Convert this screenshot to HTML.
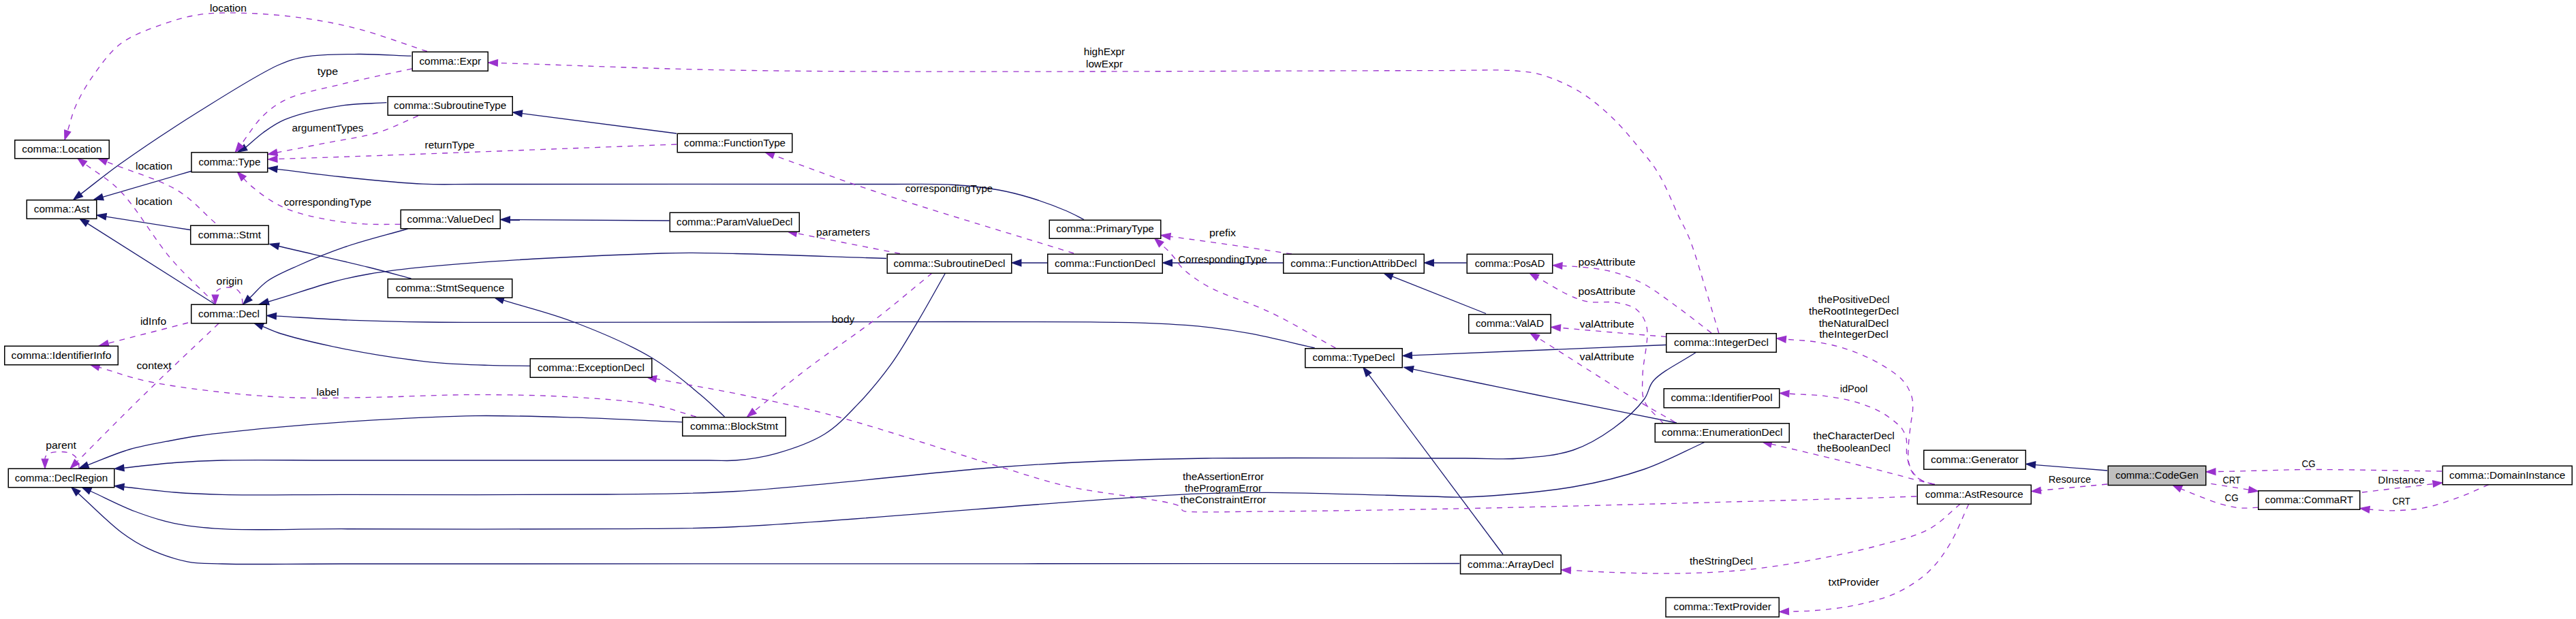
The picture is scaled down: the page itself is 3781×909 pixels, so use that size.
<!DOCTYPE html>
<html><head><meta charset="utf-8"><style>
html,body{margin:0;padding:0;background:#fff;overflow:hidden}
svg{display:block}
text{font-family:"Liberation Sans",sans-serif;font-size:14px;fill:#000}
</style></head><body>
<svg width="3781" height="909" viewBox="0 0 3781 909">
<g transform="translate(1,0)">
<path d="M602.6,82.2 C576.8,81.3 550.9,79.3 525.1,79.5 C499.3,79.7 468.8,79.6 447.6,83.3 C432.3,85.9 424.7,88.1 408.8,95.0 C379.9,107.6 331.0,138.9 292.6,162.8 C253.5,187.2 208.2,217.3 176.3,240.0 C153.1,256.6 137.2,269.9 117.6,284.9" fill="none" stroke="#191970" stroke-width="1.33"/><polygon points="107.0,293.0 114.8,281.2 120.4,288.6" fill="#191970" stroke="#191970" stroke-width="1.33"/>
<path d="M566.4,150.7 C543.9,152.2 522.3,151.6 498.9,155.3 C472.7,159.4 437.5,167.1 417.0,175.6 C403.3,181.3 394.8,187.9 385.0,195.0 C375.8,201.7 368.1,209.4 359.6,216.6" fill="none" stroke="#191970" stroke-width="1.33"/><polygon points="348.0,223.1 357.3,212.5 361.9,220.6" fill="#191970" stroke="#191970" stroke-width="1.33"/>
<path d="M992.0,196.0 L765.2,166.7" fill="none" stroke="#191970" stroke-width="1.33"/><polygon points="752.0,165.0 765.8,162.1 764.6,171.3" fill="#191970" stroke="#191970" stroke-width="1.33"/>
<path d="M1590.0,322.5 C1581.7,318.3 1575.1,314.3 1565.0,310.0 C1550.4,303.7 1527.6,295.3 1510.0,290.0 C1494.4,285.3 1481.5,282.0 1465.0,279.0 C1445.4,275.5 1424.0,273.0 1400.0,271.5 C1370.3,269.6 1347.3,270.7 1300.0,270.5 C1184.0,269.9 807.0,270.7 700.0,270.5 C660.9,270.4 649.5,271.5 620.0,270.2 C583.5,268.5 535.5,263.4 497.7,259.5 C464.8,256.1 436.4,252.1 405.7,248.4" fill="none" stroke="#191970" stroke-width="1.33"/><polygon points="392.5,246.8 406.3,243.8 405.2,253.0" fill="#191970" stroke="#191970" stroke-width="1.33"/>
<path d="M281.0,251.0 L149.8,289.3" fill="none" stroke="#191970" stroke-width="1.33"/><polygon points="137.0,293.0 148.5,284.8 151.1,293.8" fill="#191970" stroke="#191970" stroke-width="1.33"/>
<path d="M278.0,337.5 L154.7,318.1" fill="none" stroke="#191970" stroke-width="1.33"/><polygon points="141.5,316.0 155.4,313.5 153.9,322.7" fill="#191970" stroke="#191970" stroke-width="1.33"/>
<path d="M314.0,446.5 L127.3,328.1" fill="none" stroke="#191970" stroke-width="1.33"/><polygon points="116.0,321.0 129.8,324.2 124.8,332.1" fill="#191970" stroke="#191970" stroke-width="1.33"/>
<path d="M597.5,336.0 C566.5,345.0 532.9,353.2 504.6,362.9 C480.0,371.4 456.9,380.9 436.7,390.0 C419.9,397.5 404.0,403.9 391.5,412.7 C381.0,420.1 374.3,429.1 365.7,437.3" fill="none" stroke="#191970" stroke-width="1.33"/><polygon points="356.0,446.5 362.4,433.9 368.9,440.7" fill="#191970" stroke="#191970" stroke-width="1.33"/>
<path d="M981.5,324.0 L747.3,322.6" fill="none" stroke="#191970" stroke-width="1.33"/><polygon points="734.0,322.5 747.4,317.9 747.3,327.3" fill="#191970" stroke="#191970" stroke-width="1.33"/>
<path d="M1300.0,379.5 C1226.7,377.2 1140.8,373.6 1080.0,372.5 C1037.0,371.7 1018.7,370.4 970.0,372.0 C873.7,375.2 645.2,384.5 540.0,402.5 C477.4,413.2 441.9,429.5 392.9,443.0" fill="none" stroke="#191970" stroke-width="1.33"/><polygon points="380.0,446.5 391.6,438.5 394.1,447.5" fill="#191970" stroke="#191970" stroke-width="1.33"/>
<path d="M602.5,409.0 C581.7,403.5 564.7,398.7 540.0,392.5 C504.2,383.6 452.0,371.9 408.0,361.5" fill="none" stroke="#191970" stroke-width="1.33"/><polygon points="395.0,358.5 409.0,357.0 406.9,366.1" fill="#191970" stroke="#191970" stroke-width="1.33"/>
<path d="M1928.7,511.0 C1897.0,503.9 1863.6,495.2 1833.5,489.7 C1806.7,484.8 1782.4,481.5 1756.8,478.9 C1731.3,476.3 1705.9,475.3 1680.0,474.3 C1653.6,473.3 1632.7,473.1 1600.0,472.8 C1548.3,472.3 1484.5,472.5 1400.0,472.5 C1253.6,472.5 940.1,473.5 800.0,473.4 C724.5,473.4 676.8,473.7 625.7,473.0 C585.7,472.5 554.9,471.8 518.6,470.4 C481.1,468.9 442.4,466.3 404.3,464.2" fill="none" stroke="#191970" stroke-width="1.33"/><polygon points="391.0,463.5 404.6,459.6 404.1,468.9" fill="#191970" stroke="#191970" stroke-width="1.33"/>
<path d="M777.5,537.3 C756.7,537.0 736.5,537.1 715.0,536.4 C692.0,535.7 668.7,535.1 643.6,532.9 C615.4,530.4 582.3,525.7 554.3,521.3 C529.1,517.3 506.6,513.1 482.9,507.9 C459.0,502.7 429.4,495.8 411.4,490.0 C400.1,486.4 393.5,482.9 384.5,479.4" fill="none" stroke="#191970" stroke-width="1.33"/><polygon points="372.1,474.5 386.2,475.0 382.8,483.7" fill="#191970" stroke="#191970" stroke-width="1.33"/>
<path d="M1062.5,612.0 C1050.8,601.3 1041.6,591.7 1027.5,580.0 C1008.0,563.7 983.0,541.7 955.0,525.0 C922.0,505.3 877.7,486.8 840.0,472.5 C805.3,459.3 771.8,451.5 737.7,440.9" fill="none" stroke="#191970" stroke-width="1.33"/><polygon points="725.0,437.0 739.1,436.5 736.4,445.4" fill="#191970" stroke="#191970" stroke-width="1.33"/>
<path d="M1536.0,386.0 L1497.8,386.0" fill="none" stroke="#191970" stroke-width="1.33"/><polygon points="1484.5,386.0 1497.8,381.3 1497.8,390.7" fill="#191970" stroke="#191970" stroke-width="1.33"/>
<path d="M1882.0,386.0 L1719.3,386.0" fill="none" stroke="#191970" stroke-width="1.33"/><polygon points="1706.0,386.0 1719.3,381.3 1719.3,390.7" fill="#191970" stroke="#191970" stroke-width="1.33"/>
<path d="M2151.5,386.0 L2103.3,386.0" fill="none" stroke="#191970" stroke-width="1.33"/><polygon points="2090.0,386.0 2103.3,381.3 2103.3,390.7" fill="#191970" stroke="#191970" stroke-width="1.33"/>
<path d="M2180.0,460.5 L2042.4,405.9" fill="none" stroke="#191970" stroke-width="1.33"/><polygon points="2030.0,401.0 2044.1,401.6 2040.7,410.3" fill="#191970" stroke="#191970" stroke-width="1.33"/>
<path d="M2444.0,506.5 L2071.3,521.9" fill="none" stroke="#191970" stroke-width="1.33"/><polygon points="2058.0,522.5 2071.1,517.3 2071.5,526.6" fill="#191970" stroke="#191970" stroke-width="1.33"/>
<path d="M2460.0,621.0 C2391.7,607.3 2308.5,590.9 2255.0,580.0 C2220.5,573.0 2199.3,568.6 2170.0,562.5 C2138.7,556.0 2105.4,549.0 2073.0,542.2" fill="none" stroke="#191970" stroke-width="1.33"/><polygon points="2060.0,539.5 2074.0,537.7 2072.1,546.8" fill="#191970" stroke="#191970" stroke-width="1.33"/>
<path d="M2205.0,814.0 L2008.0,550.2" fill="none" stroke="#191970" stroke-width="1.33"/><polygon points="2000.0,539.5 2011.7,547.4 2004.2,553.0" fill="#191970" stroke="#191970" stroke-width="1.33"/>
<path d="M1000.0,619.9 C948.5,617.7 896.5,614.8 845.4,613.2 C795.3,611.7 746.0,610.0 696.3,610.6 C646.6,611.2 596.9,614.0 547.2,616.9 C497.5,619.8 443.9,623.9 398.2,628.1 C359.2,631.7 316.1,636.3 290.0,640.0 C275.1,642.1 268.5,643.4 255.0,646.0 C236.4,649.6 210.3,653.8 189.0,660.0 C168.0,666.1 148.3,675.2 128.0,682.8" fill="none" stroke="#191970" stroke-width="1.33"/><polygon points="115.5,687.5 126.3,678.5 129.6,687.2" fill="#191970" stroke="#191970" stroke-width="1.33"/>
<path d="M1386.6,401.0 C1372.9,425.1 1359.2,450.3 1345.4,473.4 C1332.5,495.0 1321.0,515.5 1306.6,535.4 C1291.9,555.6 1274.9,576.1 1258.1,593.6 C1242.5,609.8 1228.7,625.4 1209.7,637.2 C1188.9,650.2 1160.1,659.8 1136.9,666.3 C1116.8,671.9 1096.3,674.6 1078.8,676.0 C1064.6,677.2 1060.4,676.0 1040.0,676.0 C963.9,676.0 630.6,676.0 500.0,676.0 C425.6,676.0 370.0,674.9 324.8,676.0 C296.3,676.7 278.6,677.7 255.0,679.5 C230.6,681.4 205.5,684.5 180.8,687.1" fill="none" stroke="#191970" stroke-width="1.33"/><polygon points="167.5,688.4 180.3,682.4 181.2,691.7" fill="#191970" stroke="#191970" stroke-width="1.33"/>
<path d="M2489.0,517.0 C2468.0,531.0 2438.5,544.8 2426.0,559.0 C2418.1,567.9 2419.5,576.6 2412.5,586.0 C2402.5,599.5 2384.0,616.6 2367.0,629.0 C2349.3,641.8 2329.6,653.7 2308.0,661.0 C2284.8,668.9 2257.5,671.0 2231.5,673.0 C2204.8,675.1 2187.1,673.0 2150.0,673.0 C2069.8,673.0 1867.7,671.7 1770.0,673.0 C1708.6,673.8 1670.4,674.9 1620.0,677.0 C1568.7,679.2 1528.2,681.3 1465.0,686.0 C1365.3,693.5 1186.0,715.4 1080.0,721.5 C1005.7,725.8 964.6,725.1 890.0,726.0 C783.1,727.3 604.3,726.3 500.0,726.4 C430.1,726.4 370.0,727.5 324.8,726.4 C296.3,725.7 278.6,724.8 255.0,723.0 C230.6,721.1 205.5,717.7 180.8,715.0" fill="none" stroke="#191970" stroke-width="1.33"/><polygon points="167.5,713.6 181.3,710.4 180.3,719.7" fill="#191970" stroke="#191970" stroke-width="1.33"/>
<path d="M2502.0,649.0 C2472.2,662.3 2444.0,678.1 2412.5,689.0 C2379.5,700.4 2346.7,708.4 2308.0,715.0 C2261.0,723.0 2188.0,728.6 2150.0,730.0 C2128.7,730.8 2122.9,729.5 2100.0,729.0 C2049.9,727.9 1923.9,723.5 1860.0,723.3 C1817.5,723.2 1788.5,723.9 1753.9,725.2 C1720.9,726.5 1689.3,728.8 1657.0,730.9 C1624.7,733.0 1604.6,734.6 1560.0,737.8 C1460.8,745.0 1201.6,767.9 1080.0,773.5 C1005.6,776.9 971.8,776.1 900.0,776.7 C792.9,777.7 606.2,776.7 500.0,776.7 C429.7,776.7 369.9,779.3 324.8,776.7 C296.2,775.0 277.0,773.2 255.0,768.6 C234.6,764.4 216.7,758.4 197.0,751.0 C175.6,742.9 153.3,731.0 131.5,721.0" fill="none" stroke="#191970" stroke-width="1.33"/><polygon points="119.4,715.5 133.5,716.8 129.6,725.3" fill="#191970" stroke="#191970" stroke-width="1.33"/>
<path d="M2141.5,827.5 C1927.7,827.6 1737.5,827.7 1500.0,827.8 C1203.5,827.9 696.7,828.0 500.0,828.0 C417.7,828.0 365.7,829.3 324.8,828.0 C302.8,827.3 291.3,828.2 274.0,824.8 C255.1,821.1 233.0,813.3 216.0,805.4 C201.4,798.6 191.4,792.4 177.5,782.0 C158.3,767.7 135.0,743.6 113.8,724.4" fill="none" stroke="#191970" stroke-width="1.33"/><polygon points="103.9,715.5 116.9,721.0 110.7,727.9" fill="#191970" stroke="#191970" stroke-width="1.33"/>
<path d="M3092.0,691.0 L2986.3,682.6" fill="none" stroke="#191970" stroke-width="1.33"/><polygon points="2973.0,681.5 2986.7,677.9 2985.9,687.2" fill="#191970" stroke="#191970" stroke-width="1.33"/>
<path d="M625.9,75.5 C592.3,64.5 556.7,50.9 525.1,42.6 C497.8,35.4 474.2,30.9 447.6,27.1 C420.0,23.1 389.3,20.2 362.3,19.4 C337.9,18.6 314.6,18.1 292.6,21.3 C272.1,24.3 253.5,29.9 234.4,36.8 C214.7,44.0 192.7,51.7 176.3,64.0 C160.6,75.8 148.7,93.0 137.5,108.5 C126.8,123.3 117.1,140.0 110.4,155.0 C104.6,167.8 102.2,179.9 98.2,192.3" fill="none" stroke="#9a32cd" stroke-width="1.33" stroke-dasharray="8,8"/><polygon points="94.0,205.0 93.7,190.9 102.6,193.8" fill="#9a32cd" stroke="#9a32cd" stroke-width="1.33"/>
<path d="M603.8,100.9 C568.8,108.6 531.2,116.0 498.9,124.0 C470.8,130.9 441.1,135.8 420.7,145.3 C405.8,152.3 395.9,159.8 385.0,170.2 C373.0,181.7 363.4,198.4 352.6,212.5" fill="none" stroke="#9a32cd" stroke-width="1.33" stroke-dasharray="8,8"/><polygon points="344.5,223.1 348.9,209.7 356.3,215.4" fill="#9a32cd" stroke="#9a32cd" stroke-width="1.33"/>
<path d="M612.7,170.2 C592.5,178.5 573.5,188.6 552.2,195.0 C529.7,201.8 505.1,204.5 481.0,209.3 C456.2,214.2 430.7,219.1 405.6,224.0" fill="none" stroke="#9a32cd" stroke-width="1.33" stroke-dasharray="8,8"/><polygon points="392.5,226.5 404.7,219.4 406.5,228.5" fill="#9a32cd" stroke="#9a32cd" stroke-width="1.33"/>
<path d="M992.0,212.0 C841.3,217.7 646.3,225.2 540.0,229.0 C482.1,231.1 450.5,232.0 405.8,233.5" fill="none" stroke="#9a32cd" stroke-width="1.33" stroke-dasharray="8,8"/><polygon points="392.5,234.0 405.7,228.9 406.0,238.2" fill="#9a32cd" stroke="#9a32cd" stroke-width="1.33"/>
<path d="M586.6,329.4 C568.8,329.2 551.0,330.0 533.3,328.9 C515.5,327.8 497.7,325.8 480.0,322.6 C462.1,319.3 441.9,314.9 426.6,309.3 C414.3,304.8 404.8,299.7 394.6,293.3 C384.1,286.7 371.0,276.1 364.4,270.2 C360.8,267.0 359.3,264.8 356.7,262.1" fill="none" stroke="#9a32cd" stroke-width="1.33" stroke-dasharray="8,8"/><polygon points="347.5,252.5 360.1,258.9 353.3,265.4" fill="#9a32cd" stroke="#9a32cd" stroke-width="1.33"/>
<path d="M315.0,327.5 C296.7,311.7 282.6,293.8 260.0,280.0 C231.8,262.7 190.2,251.7 155.4,237.5" fill="none" stroke="#9a32cd" stroke-width="1.33" stroke-dasharray="8,8"/><polygon points="143.0,232.5 157.1,233.2 153.6,241.8" fill="#9a32cd" stroke="#9a32cd" stroke-width="1.33"/>
<path d="M315.0,446.0 C293.3,424.0 271.6,405.1 250.0,380.0 C224.9,350.8 199.3,304.6 175.0,280.0 C157.5,262.3 140.7,253.7 123.6,240.6" fill="none" stroke="#9a32cd" stroke-width="1.33" stroke-dasharray="8,8"/><polygon points="113.0,232.5 126.4,236.9 120.7,244.3" fill="#9a32cd" stroke="#9a32cd" stroke-width="1.33"/>
<path d="M275.0,474.0 L157.9,504.2" fill="none" stroke="#9a32cd" stroke-width="1.33" stroke-dasharray="8,8"/><polygon points="145.0,507.5 156.7,499.7 159.1,508.7" fill="#9a32cd" stroke="#9a32cd" stroke-width="1.33"/>
<path d="M1020.6,612.0 C999.5,606.2 981.6,599.0 957.3,594.5 C925.5,588.6 885.4,585.9 845.4,583.4 C799.3,580.5 746.0,579.6 696.3,579.6 C646.6,579.6 593.3,582.7 547.2,583.4 C507.3,584.0 472.6,585.3 435.4,584.1 C398.1,582.9 360.8,580.1 323.6,575.9 C286.3,571.7 244.2,566.3 211.8,559.1 C186.3,553.5 166.9,545.9 144.5,539.3" fill="none" stroke="#9a32cd" stroke-width="1.33" stroke-dasharray="8,8"/><polygon points="131.7,535.5 145.8,534.8 143.2,543.7" fill="#9a32cd" stroke="#9a32cd" stroke-width="1.33"/>
<path d="M320.0,475.0 C283.3,510.0 245.4,545.4 210.0,580.0 C176.2,613.1 144.6,645.4 111.9,678.1" fill="none" stroke="#9a32cd" stroke-width="1.33" stroke-dasharray="8,8"/><polygon points="102.5,687.5 108.6,674.8 115.2,681.4" fill="#9a32cd" stroke="#9a32cd" stroke-width="1.33"/>
<path d="M2521.8,489.0 C2515.9,469.2 2510.5,450.7 2504.0,429.5 C2496.5,405.1 2487.2,371.7 2479.0,351.0 C2473.4,336.9 2468.7,329.6 2462.4,316.4 C2454.0,298.7 2444.0,272.4 2433.0,254.4 C2423.5,238.9 2413.2,227.2 2402.0,213.7 C2390.2,199.4 2377.6,184.1 2363.6,171.0 C2349.3,157.6 2333.8,144.4 2317.0,134.3 C2300.2,124.2 2279.7,115.2 2262.8,110.2 C2249.1,106.1 2240.7,105.3 2224.0,104.0 C2194.4,101.6 2161.1,103.8 2100.0,103.7 C1926.4,103.5 1352.3,107.3 1100.0,103.5 C946.4,101.2 852.9,96.1 729.3,92.4" fill="none" stroke="#9a32cd" stroke-width="1.33" stroke-dasharray="8,8"/><polygon points="716.0,92.0 729.5,87.7 729.2,97.1" fill="#9a32cd" stroke="#9a32cd" stroke-width="1.33"/>
<path d="M1575.0,372.0 C1476.7,341.3 1360.9,307.1 1280.0,280.0 C1222.8,260.9 1183.0,245.3 1134.6,228.0" fill="none" stroke="#9a32cd" stroke-width="1.33" stroke-dasharray="8,8"/><polygon points="1122.0,223.5 1136.1,223.6 1133.0,232.4" fill="#9a32cd" stroke="#9a32cd" stroke-width="1.33"/>
<path d="M1320.0,372.5 L1168.1,342.6" fill="none" stroke="#9a32cd" stroke-width="1.33" stroke-dasharray="8,8"/><polygon points="1155.0,340.0 1169.0,338.0 1167.2,347.2" fill="#9a32cd" stroke="#9a32cd" stroke-width="1.33"/>
<path d="M1367.2,401.0 C1338.9,424.0 1311.9,447.3 1282.4,470.0 C1251.5,493.8 1215.8,517.1 1185.4,540.3 C1157.4,561.6 1132.5,582.6 1106.1,603.7" fill="none" stroke="#9a32cd" stroke-width="1.33" stroke-dasharray="8,8"/><polygon points="1095.7,612.0 1103.2,600.0 1109.0,607.3" fill="#9a32cd" stroke="#9a32cd" stroke-width="1.33"/>
<path d="M1895.0,373.0 C1864.3,368.4 1833.0,363.5 1802.8,359.2 C1773.6,355.0 1745.4,351.3 1716.7,347.3" fill="none" stroke="#9a32cd" stroke-width="1.33" stroke-dasharray="8,8"/><polygon points="1703.5,345.5 1717.3,342.7 1716.1,351.9" fill="#9a32cd" stroke="#9a32cd" stroke-width="1.33"/>
<path d="M1959.4,511.1 C1927.7,493.7 1896.1,474.3 1864.2,459.0 C1833.6,444.3 1795.2,433.5 1772.0,420.6 C1756.4,411.9 1743.9,402.7 1735.3,394.5 C1729.6,389.1 1726.9,383.6 1723.0,379.0 C1719.8,375.1 1717.0,371.7 1713.8,368.4 C1710.6,365.1 1707.0,362.2 1703.6,359.0" fill="none" stroke="#9a32cd" stroke-width="1.33" stroke-dasharray="8,8"/><polygon points="1693.8,350.0 1706.8,355.6 1700.4,362.5" fill="#9a32cd" stroke="#9a32cd" stroke-width="1.33"/>
<path d="M2511.0,489.0 C2494.3,476.3 2478.1,463.1 2461.0,450.8 C2443.8,438.4 2425.3,423.9 2408.0,415.0 C2393.4,407.5 2379.8,402.8 2365.0,399.0 C2350.1,395.1 2332.4,393.4 2319.0,392.0 C2308.8,390.9 2300.9,390.9 2291.8,390.4" fill="none" stroke="#9a32cd" stroke-width="1.33" stroke-dasharray="8,8"/><polygon points="2278.5,389.6 2292.1,385.7 2291.5,395.1" fill="#9a32cd" stroke="#9a32cd" stroke-width="1.33"/>
<path d="M2439.6,621.0 C2430.6,610.2 2417.3,600.6 2412.5,588.6 C2408.0,577.4 2409.9,566.2 2410.0,552.0 C2410.1,532.0 2420.0,497.5 2416.0,480.0 C2413.5,468.8 2408.2,460.3 2401.0,454.4 C2393.6,448.4 2382.7,446.4 2372.0,444.4 C2359.4,442.1 2342.2,445.4 2329.6,443.0 C2319.0,441.0 2311.4,437.7 2301.0,433.0 C2287.4,426.8 2270.7,416.0 2255.6,407.5" fill="none" stroke="#9a32cd" stroke-width="1.33" stroke-dasharray="8,8"/><polygon points="2244.0,401.0 2257.9,403.5 2253.3,411.6" fill="#9a32cd" stroke="#9a32cd" stroke-width="1.33"/>
<path d="M2445.0,494.6 C2418.3,492.4 2391.3,490.2 2365.0,488.0 C2339.4,485.8 2314.5,483.6 2289.3,481.4" fill="none" stroke="#9a32cd" stroke-width="1.33" stroke-dasharray="8,8"/><polygon points="2276.0,480.3 2289.7,476.8 2288.9,486.1" fill="#9a32cd" stroke="#9a32cd" stroke-width="1.33"/>
<path d="M2457.7,620.0 C2439.5,609.5 2425.5,602.1 2403.0,588.6 C2365.7,566.2 2305.2,526.9 2256.3,496.1" fill="none" stroke="#9a32cd" stroke-width="1.33" stroke-dasharray="8,8"/><polygon points="2245.0,489.0 2258.8,492.2 2253.8,500.1" fill="#9a32cd" stroke="#9a32cd" stroke-width="1.33"/>
<path d="M2838.8,711.5 C2832.4,709.4 2824.8,708.3 2819.5,705.3 C2814.9,702.7 2811.3,699.6 2808.2,695.6 C2804.9,691.2 2802.1,685.5 2800.7,679.5 C2799.1,672.8 2799.8,665.1 2800.1,656.9 C2800.5,647.1 2802.1,634.6 2803.3,624.6 C2804.3,615.8 2806.5,607.6 2806.6,600.0 C2806.7,593.5 2806.7,588.0 2804.8,581.8 C2802.5,574.4 2798.5,566.3 2792.3,559.2 C2784.4,550.2 2770.9,541.6 2758.4,534.3 C2744.8,526.3 2728.4,519.2 2713.1,513.9 C2698.3,508.7 2683.3,505.2 2667.9,502.6 C2652.3,500.0 2636.1,499.7 2620.3,498.2" fill="none" stroke="#9a32cd" stroke-width="1.33" stroke-dasharray="8,8"/><polygon points="2607.0,497.0 2620.7,493.6 2619.8,502.9" fill="#9a32cd" stroke="#9a32cd" stroke-width="1.33"/>
<path d="M2836.0,711.5 C2829.7,709.0 2822.2,707.3 2817.0,704.0 C2812.5,701.2 2809.0,698.5 2806.0,694.0 C2802.1,688.1 2799.5,678.3 2798.0,670.0 C2796.5,661.6 2798.6,651.2 2797.0,644.0 C2795.8,638.5 2793.7,634.1 2791.0,630.0 C2788.4,626.1 2785.2,623.5 2781.0,620.0 C2775.1,615.1 2767.0,609.0 2758.4,604.4 C2748.5,599.1 2736.7,594.6 2724.4,590.9 C2710.6,586.8 2695.0,583.9 2679.2,581.8 C2662.0,579.5 2642.9,579.4 2624.8,578.2" fill="none" stroke="#9a32cd" stroke-width="1.33" stroke-dasharray="8,8"/><polygon points="2611.5,577.3 2625.1,573.5 2624.5,582.8" fill="#9a32cd" stroke="#9a32cd" stroke-width="1.33"/>
<path d="M2838.8,711.5 C2832.4,710.0 2827.6,708.9 2819.5,706.9 C2805.9,703.5 2783.7,697.3 2764.6,692.4 C2744.0,687.1 2723.9,682.1 2700.0,676.2 C2670.1,668.9 2632.6,660.1 2599.0,652.1" fill="none" stroke="#9a32cd" stroke-width="1.33" stroke-dasharray="8,8"/><polygon points="2586.0,649.0 2600.0,647.6 2597.9,656.6" fill="#9a32cd" stroke="#9a32cd" stroke-width="1.33"/>
<path d="M2812.0,729.0 C2774.7,730.2 2751.3,731.0 2700.0,732.5 C2587.4,735.7 2314.8,743.3 2160.0,746.5 C2043.1,748.9 1930.1,750.6 1852.4,751.1 C1804.9,751.4 1748.6,752.9 1737.7,750.8 C1735.8,750.4 1735.5,750.3 1734.5,749.5 C1733.2,748.4 1733.9,745.7 1731.2,743.8 C1717.4,734.2 1613.8,725.4 1565.7,714.2 C1527.7,705.3 1505.5,697.1 1465.0,685.0 C1403.0,666.4 1298.7,631.0 1230.0,612.5 C1177.3,598.3 1134.9,589.5 1089.0,580.0 C1045.7,571.0 1004.4,564.3 962.1,556.4" fill="none" stroke="#9a32cd" stroke-width="1.33" stroke-dasharray="8,8"/><polygon points="949.0,554.0 963.0,551.8 961.3,561.0" fill="#9a32cd" stroke="#9a32cd" stroke-width="1.33"/>
<path d="M2876.4,740.0 C2860.9,752.4 2848.4,767.3 2829.8,777.3 C2808.1,788.9 2779.4,794.8 2752.2,802.1 C2722.7,810.0 2690.2,816.6 2659.0,822.3 C2628.0,828.0 2596.9,833.0 2565.8,836.3 C2534.8,839.6 2503.8,841.1 2472.7,841.9 C2441.7,842.7 2408.9,841.8 2379.5,841.0 C2353.1,840.3 2329.4,838.7 2304.3,837.5" fill="none" stroke="#9a32cd" stroke-width="1.33" stroke-dasharray="8,8"/><polygon points="2291.0,836.9 2304.5,832.9 2304.1,842.2" fill="#9a32cd" stroke="#9a32cd" stroke-width="1.33"/>
<path d="M2888.8,740.0 C2879.5,759.7 2871.5,781.7 2860.9,799.0 C2851.5,814.3 2842.3,827.7 2829.8,839.4 C2816.7,851.7 2800.5,862.3 2783.2,870.4 C2764.5,879.2 2741.9,884.6 2721.0,889.0 C2700.5,893.3 2676.7,895.4 2659.0,896.8 C2645.8,897.8 2635.9,897.6 2624.3,898.0" fill="none" stroke="#9a32cd" stroke-width="1.33" stroke-dasharray="8,8"/><polygon points="2611.0,898.4 2624.2,893.3 2624.5,902.6" fill="#9a32cd" stroke="#9a32cd" stroke-width="1.33"/>
<path d="M3092.0,711.0 L2994.3,720.2" fill="none" stroke="#9a32cd" stroke-width="1.33" stroke-dasharray="8,8"/><polygon points="2981.0,721.5 2993.8,715.6 2994.7,724.9" fill="#9a32cd" stroke="#9a32cd" stroke-width="1.33"/>
<path d="M3583.0,692.0 C3517.7,691.2 3434.6,689.3 3387.0,689.5 C3359.7,689.6 3344.6,690.5 3322.5,691.0 C3299.2,691.5 3274.7,692.1 3250.8,692.6" fill="none" stroke="#9a32cd" stroke-width="1.33" stroke-dasharray="8,8"/><polygon points="3237.5,692.9 3250.7,687.9 3250.9,697.3" fill="#9a32cd" stroke="#9a32cd" stroke-width="1.33"/>
<path d="M3244.3,710.4 C3254.0,711.9 3263.9,713.4 3273.4,714.9 C3282.4,716.3 3291.0,717.7 3299.8,719.2" fill="none" stroke="#9a32cd" stroke-width="1.33" stroke-dasharray="8,8"/><polygon points="3313.0,721.3 3299.1,723.8 3300.6,714.6" fill="#9a32cd" stroke="#9a32cd" stroke-width="1.33"/>
<path d="M3313.4,745.2 C3304.4,745.4 3295.2,746.7 3286.3,745.9 C3277.5,745.1 3269.4,743.2 3260.4,740.7 C3250.1,737.8 3238.3,733.0 3228.0,729.1 C3218.3,725.4 3209.5,721.6 3200.2,717.8" fill="none" stroke="#9a32cd" stroke-width="1.33" stroke-dasharray="8,8"/><polygon points="3188.1,712.3 3202.2,713.6 3198.3,722.1" fill="#9a32cd" stroke="#9a32cd" stroke-width="1.33"/>
<path d="M3466.0,723.0 L3570.3,710.6" fill="none" stroke="#9a32cd" stroke-width="1.33" stroke-dasharray="8,8"/><polygon points="3583.5,709.0 3570.8,715.2 3569.7,705.9" fill="#9a32cd" stroke="#9a32cd" stroke-width="1.33"/>
<path d="M3651.9,711.7 C3637.3,717.9 3623.4,724.8 3608.0,730.4 C3591.6,736.3 3573.1,742.7 3556.3,745.9 C3540.9,748.8 3525.1,749.5 3511.1,749.8 C3498.9,750.0 3488.2,748.8 3476.7,748.2" fill="none" stroke="#9a32cd" stroke-width="1.33" stroke-dasharray="8,8"/><polygon points="3463.5,746.5 3477.3,743.6 3476.1,752.9" fill="#9a32cd" stroke="#9a32cd" stroke-width="1.33"/>
<path d="M355.0,446.5 C355.0,434.5 351.0,422.0 336.0,422.0 C321.0,422.0 315.0,426.0 315.0,433.2" fill="none" stroke="#9a32cd" stroke-width="1.33" stroke-dasharray="8,8"/><polygon points="315.0,446.5 310.3,433.2 319.7,433.2" fill="#9a32cd" stroke="#9a32cd" stroke-width="1.33"/>
<path d="M115.0,687.5 C115.0,675.5 111.0,663.5 87.5,663.5 C71.0,663.5 65.0,667.5 65.0,674.2" fill="none" stroke="#9a32cd" stroke-width="1.33" stroke-dasharray="8,8"/><polygon points="65.0,687.5 60.3,674.2 69.7,674.2" fill="#9a32cd" stroke="#9a32cd" stroke-width="1.33"/>
<rect x="604.25" y="76.25" width="111.00" height="28.00" fill="#ffffff" stroke="#000" stroke-width="1.5"/>
<text x="614.4" y="94.8" textLength="90.7" lengthAdjust="spacingAndGlyphs">comma::Expr</text>
<rect x="568.25" y="141.75" width="183.00" height="27.50" fill="#ffffff" stroke="#000" stroke-width="1.5"/>
<text x="577.1" y="160.1" textLength="165.2" lengthAdjust="spacingAndGlyphs">comma::SubroutineType</text>
<rect x="20.75" y="205.75" width="138.50" height="27.00" fill="#ffffff" stroke="#000" stroke-width="1.5"/>
<text x="31.3" y="223.8" textLength="117.3" lengthAdjust="spacingAndGlyphs">comma::Location</text>
<rect x="280.05" y="223.85" width="111.70" height="28.90" fill="#ffffff" stroke="#000" stroke-width="1.5"/>
<text x="290.4" y="242.9" textLength="91.0" lengthAdjust="spacingAndGlyphs">comma::Type</text>
<rect x="993.25" y="196.25" width="168.50" height="27.50" fill="#ffffff" stroke="#000" stroke-width="1.5"/>
<text x="1003.1" y="214.6" textLength="148.9" lengthAdjust="spacingAndGlyphs">comma::FunctionType</text>
<rect x="38.25" y="293.75" width="102.50" height="27.50" fill="#ffffff" stroke="#000" stroke-width="1.5"/>
<text x="48.7" y="312.1" textLength="81.5" lengthAdjust="spacingAndGlyphs">comma::Ast</text>
<rect x="587.25" y="308.25" width="146.00" height="27.50" fill="#ffffff" stroke="#000" stroke-width="1.5"/>
<text x="596.6" y="326.6" textLength="127.2" lengthAdjust="spacingAndGlyphs">comma::ValueDecl</text>
<rect x="982.25" y="312.25" width="190.00" height="28.00" fill="#ffffff" stroke="#000" stroke-width="1.5"/>
<text x="992.1" y="330.9" textLength="170.3" lengthAdjust="spacingAndGlyphs">comma::ParamValueDecl</text>
<rect x="1539.25" y="323.25" width="163.50" height="27.00" fill="#ffffff" stroke="#000" stroke-width="1.5"/>
<text x="1549.2" y="341.4" textLength="143.6" lengthAdjust="spacingAndGlyphs">comma::PrimaryType</text>
<rect x="278.75" y="331.25" width="114.50" height="27.50" fill="#ffffff" stroke="#000" stroke-width="1.5"/>
<text x="289.8" y="349.6" textLength="92.3" lengthAdjust="spacingAndGlyphs">comma::Stmt</text>
<rect x="1301.25" y="373.25" width="182.50" height="28.00" fill="#ffffff" stroke="#000" stroke-width="1.5"/>
<text x="1310.4" y="391.9" textLength="164.1" lengthAdjust="spacingAndGlyphs">comma::SubroutineDecl</text>
<rect x="1536.75" y="373.25" width="168.50" height="28.00" fill="#ffffff" stroke="#000" stroke-width="1.5"/>
<text x="1547.1" y="391.9" textLength="147.7" lengthAdjust="spacingAndGlyphs">comma::FunctionDecl</text>
<rect x="1882.75" y="373.25" width="206.50" height="28.00" fill="#ffffff" stroke="#000" stroke-width="1.5"/>
<text x="1893.3" y="391.9" textLength="185.5" lengthAdjust="spacingAndGlyphs">comma::FunctionAttribDecl</text>
<rect x="2152.25" y="373.25" width="125.50" height="28.00" fill="#ffffff" stroke="#000" stroke-width="1.5"/>
<text x="2163.7" y="391.9" textLength="102.7" lengthAdjust="spacingAndGlyphs">comma::PosAD</text>
<rect x="568.25" y="409.75" width="182.50" height="27.50" fill="#ffffff" stroke="#000" stroke-width="1.5"/>
<text x="579.8" y="428.1" textLength="159.4" lengthAdjust="spacingAndGlyphs">comma::StmtSequence</text>
<rect x="279.75" y="447.25" width="110.50" height="27.50" fill="#ffffff" stroke="#000" stroke-width="1.5"/>
<text x="290.1" y="465.6" textLength="89.9" lengthAdjust="spacingAndGlyphs">comma::Decl</text>
<rect x="2154.75" y="461.75" width="120.50" height="27.50" fill="#ffffff" stroke="#000" stroke-width="1.5"/>
<text x="2165.0" y="480.1" textLength="99.9" lengthAdjust="spacingAndGlyphs">comma::ValAD</text>
<rect x="2444.75" y="489.75" width="161.50" height="27.50" fill="#ffffff" stroke="#000" stroke-width="1.5"/>
<text x="2456.1" y="508.1" textLength="138.8" lengthAdjust="spacingAndGlyphs">comma::IntegerDecl</text>
<rect x="5.75" y="508.25" width="166.50" height="27.50" fill="#ffffff" stroke="#000" stroke-width="1.5"/>
<text x="15.6" y="526.6" textLength="146.8" lengthAdjust="spacingAndGlyphs">comma::IdentifierInfo</text>
<rect x="1914.75" y="511.75" width="142.50" height="28.00" fill="#ffffff" stroke="#000" stroke-width="1.5"/>
<text x="1925.4" y="530.4" textLength="121.1" lengthAdjust="spacingAndGlyphs">comma::TypeDecl</text>
<rect x="777.25" y="526.75" width="178.50" height="27.50" fill="#ffffff" stroke="#000" stroke-width="1.5"/>
<text x="788.1" y="545.1" textLength="156.8" lengthAdjust="spacingAndGlyphs">comma::ExceptionDecl</text>
<rect x="2441.25" y="570.75" width="169.50" height="28.00" fill="#ffffff" stroke="#000" stroke-width="1.5"/>
<text x="2451.4" y="589.4" textLength="149.2" lengthAdjust="spacingAndGlyphs">comma::IdentifierPool</text>
<rect x="1000.75" y="612.75" width="151.50" height="27.50" fill="#ffffff" stroke="#000" stroke-width="1.5"/>
<text x="1011.9" y="631.1" textLength="129.1" lengthAdjust="spacingAndGlyphs">comma::BlockStmt</text>
<rect x="2428.25" y="621.75" width="197.00" height="27.50" fill="#ffffff" stroke="#000" stroke-width="1.5"/>
<text x="2438.1" y="640.1" textLength="177.3" lengthAdjust="spacingAndGlyphs">comma::EnumerationDecl</text>
<rect x="2822.75" y="661.25" width="149.50" height="28.00" fill="#ffffff" stroke="#000" stroke-width="1.5"/>
<text x="2833.1" y="679.9" textLength="128.9" lengthAdjust="spacingAndGlyphs">comma::Generator</text>
<rect x="11.25" y="688.25" width="155.50" height="27.50" fill="#ffffff" stroke="#000" stroke-width="1.5"/>
<text x="20.8" y="706.6" textLength="136.4" lengthAdjust="spacingAndGlyphs">comma::DeclRegion</text>
<rect x="3093.25" y="684.25" width="143.50" height="28.30" fill="#bfbfbf" stroke="#000" stroke-width="1.5"/>
<text x="3103.9" y="703.0" textLength="122.1" lengthAdjust="spacingAndGlyphs">comma::CodeGen</text>
<rect x="3584.25" y="684.25" width="190.00" height="27.50" fill="#ffffff" stroke="#000" stroke-width="1.5"/>
<text x="3594.0" y="702.6" textLength="170.4" lengthAdjust="spacingAndGlyphs">comma::DomainInstance</text>
<rect x="2813.25" y="712.25" width="167.00" height="28.00" fill="#ffffff" stroke="#000" stroke-width="1.5"/>
<text x="2824.8" y="730.9" textLength="143.9" lengthAdjust="spacingAndGlyphs">comma::AstResource</text>
<rect x="3313.75" y="720.75" width="149.00" height="27.50" fill="#ffffff" stroke="#000" stroke-width="1.5"/>
<text x="3323.6" y="739.1" textLength="129.2" lengthAdjust="spacingAndGlyphs">comma::CommaRT</text>
<rect x="2142.55" y="815.05" width="147.70" height="27.70" fill="#ffffff" stroke="#000" stroke-width="1.5"/>
<text x="2153.1" y="833.5" textLength="126.5" lengthAdjust="spacingAndGlyphs">comma::ArrayDecl</text>
<rect x="2444.05" y="877.55" width="166.20" height="28.40" fill="#ffffff" stroke="#000" stroke-width="1.5"/>
<text x="2455.5" y="896.4" textLength="143.3" lengthAdjust="spacingAndGlyphs">comma::TextProvider</text>
<text x="307.0" y="16.6" textLength="54.0" lengthAdjust="spacingAndGlyphs">location</text>
<text x="464.8" y="109.6" textLength="30.4" lengthAdjust="spacingAndGlyphs">type</text>
<text x="427.6" y="192.6" textLength="104.8" lengthAdjust="spacingAndGlyphs">argumentTypes</text>
<text x="622.6" y="218.1" textLength="72.8" lengthAdjust="spacingAndGlyphs">returnType</text>
<text x="198.0" y="248.6" textLength="54.0" lengthAdjust="spacingAndGlyphs">location</text>
<text x="198.0" y="300.6" textLength="54.0" lengthAdjust="spacingAndGlyphs">location</text>
<text x="415.8" y="302.1" textLength="128.4" lengthAdjust="spacingAndGlyphs">correspondingType</text>
<text x="316.6" y="418.1" textLength="38.7" lengthAdjust="spacingAndGlyphs">origin</text>
<text x="204.9" y="477.1" textLength="38.2" lengthAdjust="spacingAndGlyphs">idInfo</text>
<text x="199.4" y="541.6" textLength="51.3" lengthAdjust="spacingAndGlyphs">context</text>
<text x="463.6" y="580.6" textLength="32.9" lengthAdjust="spacingAndGlyphs">label</text>
<text x="66.2" y="658.6" textLength="44.6" lengthAdjust="spacingAndGlyphs">parent</text>
<text x="1589.7" y="80.6" textLength="60.5" lengthAdjust="spacingAndGlyphs">highExpr</text>
<text x="1593.0" y="98.6" textLength="54.1" lengthAdjust="spacingAndGlyphs">lowExpr</text>
<text x="1327.8" y="281.6" textLength="128.4" lengthAdjust="spacingAndGlyphs">correspondingType</text>
<text x="1197.1" y="345.6" textLength="78.9" lengthAdjust="spacingAndGlyphs">parameters</text>
<text x="1219.7" y="473.6" textLength="33.6" lengthAdjust="spacingAndGlyphs">body</text>
<text x="1774.0" y="346.6" textLength="38.9" lengthAdjust="spacingAndGlyphs">prefix</text>
<text x="1728.3" y="385.6" textLength="130.4" lengthAdjust="spacingAndGlyphs">CorrespondingType</text>
<text x="2315.5" y="389.6" textLength="84.1" lengthAdjust="spacingAndGlyphs">posAttribute</text>
<text x="2315.5" y="432.6" textLength="84.1" lengthAdjust="spacingAndGlyphs">posAttribute</text>
<text x="2317.4" y="480.6" textLength="80.2" lengthAdjust="spacingAndGlyphs">valAttribute</text>
<text x="2317.4" y="529.1" textLength="80.2" lengthAdjust="spacingAndGlyphs">valAttribute</text>
<text x="2667.6" y="444.6" textLength="104.8" lengthAdjust="spacingAndGlyphs">thePositiveDecl</text>
<text x="2653.9" y="462.1" textLength="132.2" lengthAdjust="spacingAndGlyphs">theRootIntegerDecl</text>
<text x="2668.7" y="479.6" textLength="102.6" lengthAdjust="spacingAndGlyphs">theNaturalDecl</text>
<text x="2669.3" y="496.1" textLength="101.3" lengthAdjust="spacingAndGlyphs">theIntegerDecl</text>
<text x="2699.7" y="576.1" textLength="40.5" lengthAdjust="spacingAndGlyphs">idPool</text>
<text x="2660.2" y="644.6" textLength="119.6" lengthAdjust="spacingAndGlyphs">theCharacterDecl</text>
<text x="2666.3" y="662.6" textLength="107.5" lengthAdjust="spacingAndGlyphs">theBooleanDecl</text>
<text x="2682.6" y="860.1" textLength="74.7" lengthAdjust="spacingAndGlyphs">txtProvider</text>
<text x="2479.0" y="828.6" textLength="93.0" lengthAdjust="spacingAndGlyphs">theStringDecl</text>
<text x="1735.0" y="704.6" textLength="119.0" lengthAdjust="spacingAndGlyphs">theAssertionError</text>
<text x="1738.1" y="721.6" textLength="112.9" lengthAdjust="spacingAndGlyphs">theProgramError</text>
<text x="1731.5" y="738.6" textLength="126.0" lengthAdjust="spacingAndGlyphs">theConstraintError</text>
<text x="3005.8" y="708.6" textLength="62.4" lengthAdjust="spacingAndGlyphs">Resource</text>
<text x="3377.5" y="685.6" textLength="20.0" lengthAdjust="spacingAndGlyphs">CG</text>
<text x="3261.4" y="709.6" textLength="26.3" lengthAdjust="spacingAndGlyphs">CRT</text>
<text x="3264.5" y="736.1" textLength="20.0" lengthAdjust="spacingAndGlyphs">CG</text>
<text x="3489.3" y="709.6" textLength="68.3" lengthAdjust="spacingAndGlyphs">DInstance</text>
<text x="3510.4" y="740.6" textLength="26.3" lengthAdjust="spacingAndGlyphs">CRT</text>
</g>
</svg></body></html>
